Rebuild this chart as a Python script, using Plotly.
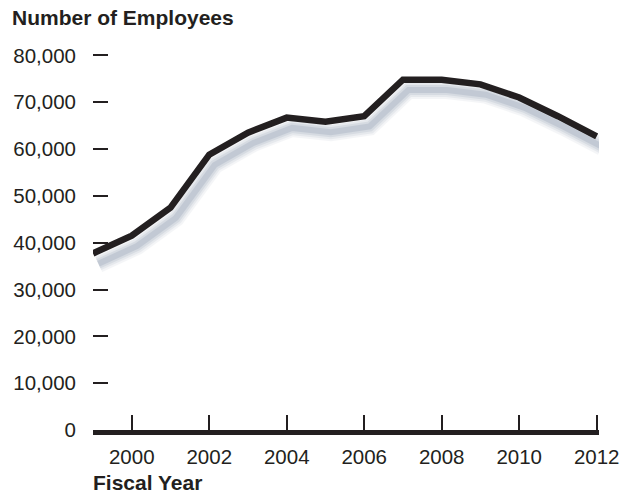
import plotly.graph_objects as go

years = [1999, 2000, 2001, 2002, 2003, 2004, 2005, 2006, 2007, 2008, 2009, 2010, 2011, 2012]
employees = [37700, 41500, 47500, 58800, 63500, 66700, 65800, 67000, 74800, 74800, 73800, 71000, 67000, 62700]
y_ticks = [0, 10000, 20000, 30000, 40000, 50000, 60000, 70000, 80000]
y_tick_labels = ["0", "10,000", "20,000", "30,000", "40,000", "50,000", "60,000", "70,000", "80,000"]
x_ticks = [2000, 2002, 2004, 2006, 2008, 2010, 2012]
x_tick_labels = ["2000", "2002", "2004", "2006", "2008", "2010", "2012"]

INK = "#231f20"
FONT = "Liberation Sans"

fig = go.Figure()

# soft drop shadow, built from the same data shifted down/right
shadow_layers = [(18, 0.08), (14, 0.11), (10, 0.15), (6, 0.22)]
for w, op in shadow_layers:
    fig.add_trace(go.Scatter(
        x=[v + 0.14 for v in years],
        y=[v - 2200 for v in employees],
        mode="lines",
        line=dict(color="#7f8ea5", width=w),
        opacity=op,
        hoverinfo="skip",
        showlegend=False,
    ))

fig.add_trace(go.Scatter(
    x=years, y=employees, mode="lines",
    line=dict(color=INK, width=6.5),
    showlegend=False,
))

fig.update_layout(
    width=620, height=498,
    margin=dict(l=93, r=20.7, t=52.6, b=67.5, autoexpand=False),
    paper_bgcolor="white", plot_bgcolor="white",
    font=dict(family=FONT, size=21, color=INK),
    title=dict(
        text="<b>Number of Employees</b>",
        font=dict(family=FONT, size=21, color=INK),
        xref="container", yref="container",
        x=12 / 620, xanchor="left",
        y=1 - 10 / 498, yanchor="top",
    ),
    annotations=[dict(
        text="<b>Fiscal Year</b>",
        xref="paper", yref="paper",
        x=-0.004, xanchor="left",
        y=-0.176, yanchor="bottom",
        showarrow=False,
        font=dict(family=FONT, size=21, color=INK),
    )],
)

fig.update_xaxes(
    range=[1999, 2012.06],
    tickvals=x_ticks, ticktext=x_tick_labels,
    ticks="inside", ticklen=15, tickwidth=1.5, tickcolor=INK,
    showline=True, linewidth=5, linecolor=INK,
    showgrid=False, zeroline=False, automargin=False,
    ticklabelstandoff=4,
    tickfont=dict(family=FONT, size=20.5, color=INK),
)
fig.update_yaxes(
    range=[0, 80500],
    tickvals=y_ticks, ticktext=y_tick_labels,
    ticks="inside", ticklen=15, tickwidth=1.5, tickcolor=INK,
    showline=False, showgrid=False, zeroline=False, automargin=False,
    ticklabelstandoff=16,
    tickfont=dict(family=FONT, size=20.5, color=INK),
)

fig.write_html("out.html")
